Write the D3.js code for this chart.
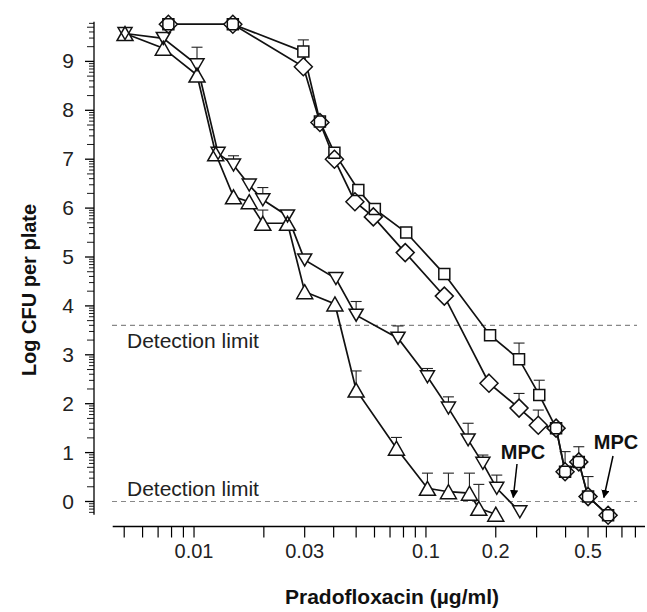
<!DOCTYPE html>
<html><head><meta charset="utf-8">
<script src="https://cdn.jsdelivr.net/npm/d3@7"></script>
<style>html,body{margin:0;padding:0;background:#fff;}svg{display:block;font-family:"Liberation Sans",Arial,Helvetica,sans-serif;}</style>
</head><body>
<svg id="c" width="647" height="612"></svg>
<script>
// Squares series
const sqX = [0.00775, 0.0147, 0.0296, 0.0349, 0.0403, 0.0511, 0.0602, 0.0822, 0.120, 0.189, 0.252, 0.308, 0.364, 0.398, 0.456, 0.500, 0.610];
const sqY = [9.76, 9.76, 9.20, 7.77, 7.13, 6.37, 5.98, 5.50, 4.65, 3.40, 2.91, 2.18, 1.50, 0.61, 0.81, 0.10, -0.28];
const sqErr = [null, null, 9.44, null, null, null, null, null, null, null, 3.24, 2.48, null, 1.02, 1.12, 0.51, null];
// Diamonds series
const diX = [0.00775, 0.0147, 0.0296, 0.0349, 0.0403, 0.0494, 0.0593, 0.0814, 0.120, 0.187, 0.252, 0.305, 0.364, 0.398, 0.456, 0.500, 0.610];
const diY = [9.76, 9.76, 8.89, 7.75, 7.00, 6.13, 5.82, 5.09, 4.20, 2.42, 1.91, 1.56, 1.50, 0.61, 0.81, 0.10, -0.28];
const diErr = [null, null, null, null, null, null, null, null, null, null, 2.21, 1.87, null, null, null, null, null];
// Down-triangles series
const dnX = [0.00504, 0.00737, 0.0103, 0.0127, 0.0148, 0.0173, 0.0198, 0.0253, 0.030, 0.0409, 0.050, 0.0758, 0.1015, 0.125, 0.152, 0.176, 0.202, 0.254];
const dnY = [9.57, 9.47, 8.93, 7.12, 6.88, 6.47, 6.17, 5.84, 4.94, 4.56, 3.81, 3.34, 2.55, 1.91, 1.26, 0.78, 0.27, -0.21];
const dnErr = [null, null, 9.29, null, 7.07, null, 6.42, null, null, null, 4.09, 3.59, 2.72, 2.14, 1.60, 0.95, 0.54, null];
// Up-triangles series
const upX = [0.00504, 0.00737, 0.0103, 0.0124, 0.0148, 0.0173, 0.0198, 0.0253, 0.030, 0.0405, 0.050, 0.0746, 0.1015, 0.125, 0.154, 0.169, 0.200];
const upY = [9.57, 9.27, 8.72, 7.11, 6.23, 6.13, 5.69, 5.69, 4.29, 4.04, 2.28, 1.09, 0.27, 0.20, 0.17, -0.14, -0.26];
const upErr = [null, null, null, null, null, null, 5.96, null, null, null, 2.67, 1.31, 0.58, 0.58, 0.58, 0.35, null];

const xTickLabels = [0.01, 0.03, 0.1, 0.2, 0.5];
const yTickLabels = [0, 1, 2, 3, 4, 5, 6, 7, 8, 9];
const detectionLimits = [3.6, 0];
const detectionText = "Detection limit";
const mpcX = [0.238, 0.585];
const xTitle = "Pradofloxacin (\u00b5g/ml)";
const yTitle = "Log CFU per plate";

const svg = d3.select("#c");
const x = d3.scaleLog().domain([0.00446, 0.88]).range([112.7, 645]);
const y = d3.scaleLinear().domain([0, 9]).range([501.5, 61.4]);
const axisY = 526.5, axisX = 94;

// X axis
const gx = svg.append("g");
gx.append("line").attr("x1", x(0.00446)).attr("x2", x(0.88)).attr("y1", axisY).attr("y2", axisY).attr("stroke", "#000").attr("stroke-width", 1.3);
const xMinor = [];
[0.001, 0.01, 0.1].forEach(d => { for (let k = 1; k < 10; k++) { const v = +(d * k).toPrecision(3); if (v >= 0.00446 && v <= 0.88) xMinor.push(v); } });
gx.selectAll("line.t").data(xMinor).join("line").attr("class", "t")
  .attr("x1", d => x(d)).attr("x2", d => x(d)).attr("y1", axisY).attr("y2", axisY + 11)
  .attr("stroke", "#000").attr("stroke-width", 1.2);
gx.selectAll("text").data(xTickLabels).join("text")
  .attr("x", d => x(d)).attr("y", 558).attr("text-anchor", "middle")
  .attr("font-size", 20).attr("fill", "#222").text(d => d);

// Y axis
const gy = svg.append("g");
const yTop = 9.81, yBot = -0.27;
gy.append("line").attr("x1", axisX).attr("x2", axisX).attr("y1", y(yTop)).attr("y2", y(yBot)).attr("stroke", "#000").attr("stroke-width", 1.3);
const yMinor = [];
for (let n = -1; n <= 9; n++) for (let k = 2; k <= 9; k++) { const v = n + Math.log10(k); if (v >= yBot && v <= yTop) yMinor.push({v, k}); }
gy.selectAll("line.m").data(yMinor).join("line").attr("class", "m")
  .attr("x1", d => axisX - (d.k === 5 || d.k === 2 ? 7 : 5)).attr("x2", axisX).attr("y1", d => y(d.v)).attr("y2", d => y(d.v))
  .attr("stroke", "#000").attr("stroke-width", 0.9);
gy.selectAll("line.M").data(yTickLabels).join("line").attr("class", "M")
  .attr("x1", axisX - 9).attr("x2", axisX).attr("y1", d => y(d)).attr("y2", d => y(d))
  .attr("stroke", "#000").attr("stroke-width", 1.3);
gy.selectAll("text").data(yTickLabels).join("text")
  .attr("x", 74).attr("y", d => y(d) + 7).attr("text-anchor", "end")
  .attr("font-size", 21).attr("fill", "#222").text(d => d);

// Titles
svg.append("text").attr("x", 392).attr("y", 604).attr("text-anchor", "middle")
  .attr("font-size", 21).attr("font-weight", "bold").attr("fill", "#111").text(xTitle);
svg.append("text").attr("transform", "translate(36,290) rotate(-90)").attr("text-anchor", "middle")
  .attr("font-size", 20).attr("font-weight", "bold").attr("fill", "#111").text(yTitle);

// Detection limits
svg.selectAll("line.dl").data(detectionLimits).join("line").attr("class", "dl")
  .attr("x1", 112).attr("x2", 637).attr("y1", d => y(d)).attr("y2", d => y(d))
  .attr("stroke", "#888").attr("stroke-width", 1.2).attr("stroke-dasharray", "5,4");
svg.selectAll("text.dl").data(detectionLimits).join("text").attr("class", "dl")
  .attr("x", 127).attr("y", (d, i) => i === 0 ? y(d) + 23 : y(d) - 6)
  .attr("font-size", 21).attr("fill", "#222").text(detectionText);

// Series
const series = [
  {xs: sqX, ys: sqY, err: sqErr, shape: "sq"},
  {xs: diX, ys: diY, err: diErr, shape: "di"},
  {xs: dnX, ys: dnY, err: dnErr, shape: "dn"},
  {xs: upX, ys: upY, err: upErr, shape: "up"}
];
const half = {sq: 5.5, di: 9, dn: 6, up: 7};
function path(shape) {
  if (shape === "sq") return "M-5.5,-5.5H5.5V5.5H-5.5Z";
  if (shape === "di") return "M0,-9L9,0L0,9L-9,0Z";
  if (shape === "dn") return "M-7,-6H7L0,6Z";
  return "M0,-7L8,7H-8Z";
}
const line = d3.line().x(d => x(d[0])).y(d => y(d[1]));
series.forEach(s => {
  const pts = s.xs.map((v, i) => [v, s.ys[i], s.err[i]]);
  svg.append("path").attr("d", line(pts)).attr("fill", "none").attr("stroke", "#111").attr("stroke-width", 1.7);
  const eb = pts.filter(p => p[2] !== null);
  const g = svg.append("g");
  g.selectAll("line.v").data(eb).join("line").attr("class", "v")
    .attr("x1", d => x(d[0])).attr("x2", d => x(d[0])).attr("y1", d => y(d[1]) - half[s.shape]).attr("y2", d => y(d[2]))
    .attr("stroke", "#222").attr("stroke-width", 1.1);
  g.selectAll("line.c").data(eb).join("line").attr("class", "c")
    .attr("x1", d => x(d[0]) - 5.5).attr("x2", d => x(d[0]) + 5.5).attr("y1", d => y(d[2])).attr("y2", d => y(d[2]))
    .attr("stroke", "#222").attr("stroke-width", 1.1);
});
// marker fills then outlines
series.forEach(s => {
  svg.append("g").selectAll("path").data(s.xs.map((v, i) => [v, s.ys[i]])).join("path")
    .attr("d", path(s.shape)).attr("transform", d => `translate(${x(d[0])},${y(d[1])})`)
    .attr("fill", "#fff").attr("stroke", "none");
});
series.forEach(s => {
  svg.append("g").selectAll("path").data(s.xs.map((v, i) => [v, s.ys[i]])).join("path")
    .attr("d", path(s.shape)).attr("transform", d => `translate(${x(d[0])},${y(d[1])})`)
    .attr("fill", "none").attr("stroke", "#111").attr("stroke-width", 1.5);
});

// MPC annotations
const mpc = [{tx: 523, ty: 459, x0: 517, y0: 464, xv: mpcX[0]}, {tx: 616, ty: 449, x0: 613, y0: 456, xv: mpcX[1]}];
svg.append("defs").append("marker").attr("id", "ah").attr("viewBox", "0 0 10 10").attr("refX", 9).attr("refY", 5)
  .attr("markerWidth", 5.5).attr("markerHeight", 5.5).attr("orient", "auto")
  .append("path").attr("d", "M0,0L10,5L0,10Z").attr("fill", "#000");
mpc.forEach(m => {
  svg.append("text").attr("x", m.tx).attr("y", m.ty).attr("text-anchor", "middle")
    .attr("font-size", 20).attr("font-weight", "bold").attr("fill", "#111").text("MPC");
  svg.append("line").attr("x1", m.x0).attr("y1", m.y0).attr("x2", x(m.xv)).attr("y2", y(0) - 4)
    .attr("stroke", "#000").attr("stroke-width", 1.5).attr("marker-end", "url(#ah)");
});
</script>
</body></html>
